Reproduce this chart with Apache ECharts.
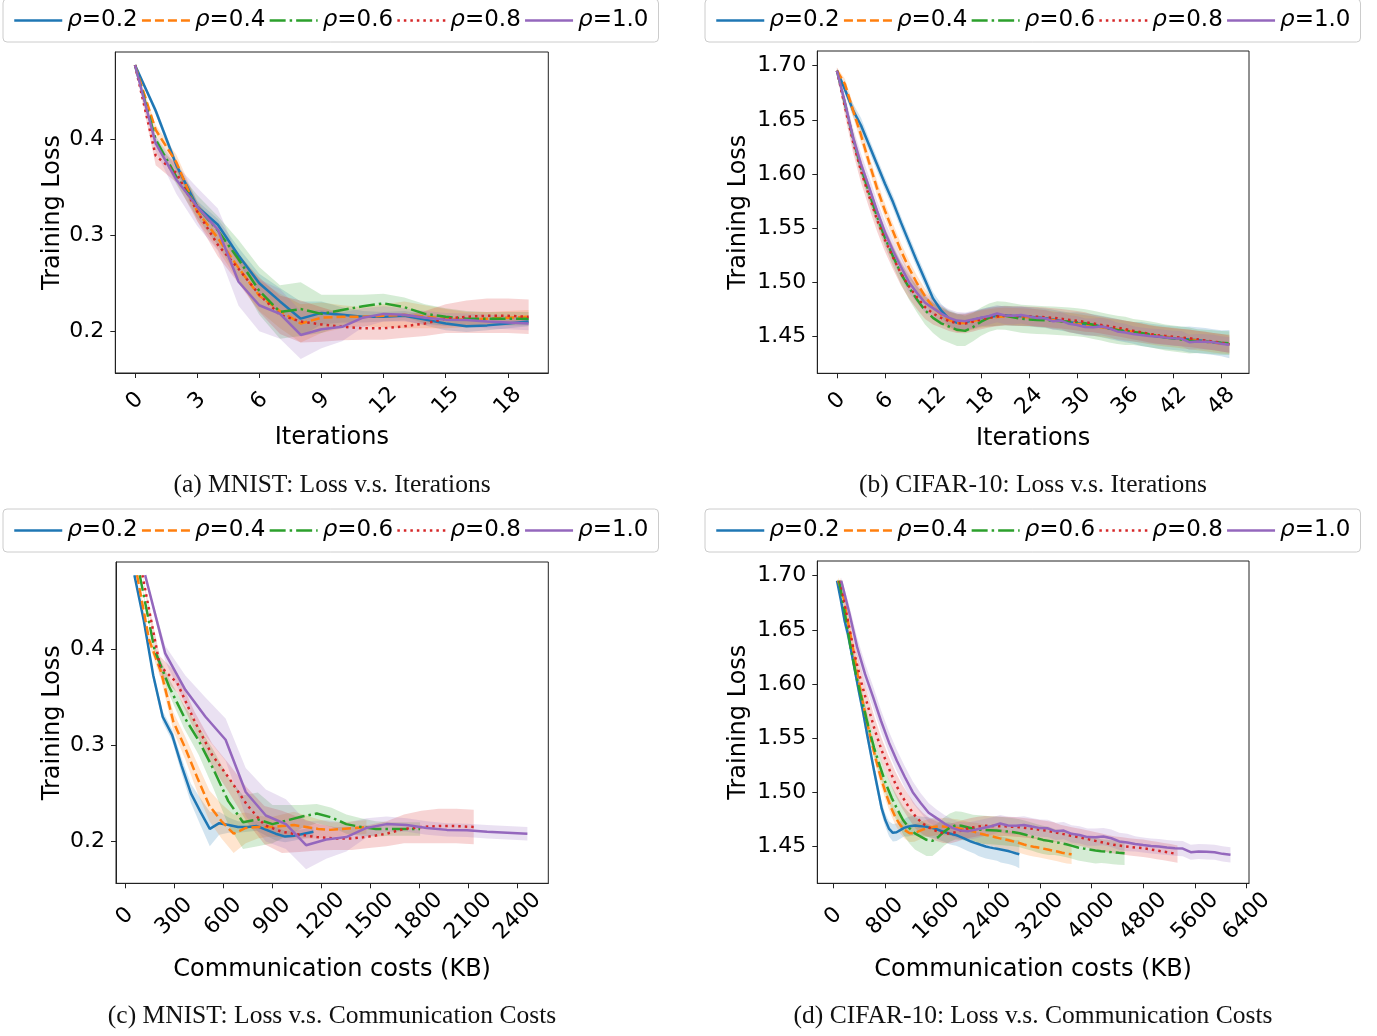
<!DOCTYPE html>
<html><head><meta charset="utf-8">
<script src="https://cdn.jsdelivr.net/npm/echarts@6/dist/echarts.min.js"></script>
<style>html,body{margin:0;padding:0;background:#fff}#c{width:1377px;height:1036px}</style>
</head><body><div id="c"></div><script>
// ---------------- DATA ----------------
const seriesNames = ['ρ=0.2', 'ρ=0.4', 'ρ=0.6', 'ρ=0.8', 'ρ=1.0'];
const seriesColors = ['#1f77b4', '#ff7f0e', '#2ca02c', '#d62728', '#9467bd'];
// communication cost per training round (KB) for each rho
const costPerRound = [57.6, 73.8, 90.2, 106.6, 123.0];

// MNIST training loss per iteration (0..19)
const mnistLoss_r02 = [0.4776, 0.430, 0.373, 0.330, 0.311, 0.279, 0.250, 0.231, 0.213, 0.219, 0.217, 0.215, 0.215, 0.216, 0.212, 0.208, 0.205, 0.206, 0.208, 0.210];
const mnistLoss_r04 = [0.4776, 0.410, 0.376, 0.325, 0.297, 0.266, 0.237, 0.221, 0.208, 0.214, 0.215, 0.215, 0.216, 0.217, 0.215, 0.213, 0.212, 0.213, 0.214, 0.215];
const mnistLoss_r06 = [0.4776, 0.400, 0.361, 0.330, 0.305, 0.275, 0.242, 0.220, 0.223, 0.218, 0.222, 0.226, 0.229, 0.225, 0.218, 0.215, 0.213, 0.213, 0.213, 0.213];
const mnistLoss_r08 = [0.4776, 0.383, 0.365, 0.325, 0.290, 0.265, 0.238, 0.217, 0.210, 0.207, 0.2045, 0.203, 0.203, 0.205, 0.208, 0.213, 0.215, 0.216, 0.216, 0.215];
const mnistLoss_r10 = [0.4776, 0.396, 0.358, 0.330, 0.306, 0.2515, 0.227, 0.218, 0.196, 0.202, 0.2045, 0.214, 0.218, 0.217, 0.214, 0.212, 0.2115, 0.210, 0.209, 0.208];
// MNIST shaded band half-widths
const mnistBand_r02 = [0.001, 0.004, 0.005, 0.006, 0.006, 0.008, 0.010, 0.014, 0.018, 0.012, 0.008, 0.006, 0.005, 0.005, 0.006, 0.007, 0.006, 0.005, 0.005, 0.005];
const mnistBand_r04 = [0.001, 0.005, 0.008, 0.010, 0.012, 0.015, 0.016, 0.018, 0.020, 0.016, 0.012, 0.010, 0.012, 0.014, 0.012, 0.010, 0.008, 0.007, 0.007, 0.007];
const mnistBand_r06 = [0.001, 0.004, 0.008, 0.012, 0.015, 0.020, 0.025, 0.028, 0.028, 0.020, 0.016, 0.012, 0.010, 0.010, 0.010, 0.009, 0.008, 0.007, 0.007, 0.007];
const mnistBand_r08 = [0.001, 0.010, 0.010, 0.010, 0.012, 0.015, 0.018, 0.020, 0.022, 0.018, 0.014, 0.012, 0.012, 0.012, 0.013, 0.015, 0.017, 0.018, 0.018, 0.018];
const mnistBand_r10 = [0.001, 0.008, 0.015, 0.020, 0.022, 0.025, 0.027, 0.026, 0.025, 0.020, 0.015, 0.010, 0.008, 0.007, 0.007, 0.007, 0.007, 0.007, 0.007, 0.007];

// CIFAR-10 training loss per iteration (0..49)
const cifarLoss_r02 = [1.6954, 1.678, 1.659, 1.645, 1.627, 1.609, 1.591, 1.574, 1.555, 1.537, 1.519, 1.502, 1.485, 1.474, 1.466, 1.4625, 1.4630, 1.4650, 1.4670, 1.4680, 1.4688, 1.4692, 1.4688, 1.4684, 1.4680, 1.4674, 1.4666, 1.4655, 1.4641, 1.4630, 1.4621, 1.4612, 1.4604, 1.4590, 1.4575, 1.4559, 1.4544, 1.4532, 1.4521, 1.4509, 1.4498, 1.4490, 1.4483, 1.4477, 1.4471, 1.4464, 1.4456, 1.4446, 1.4436, 1.4427];
const cifarLoss_r04 = [1.6954, 1.683, 1.659, 1.636, 1.611, 1.587, 1.566, 1.547, 1.529, 1.513, 1.499, 1.487, 1.477, 1.470, 1.4650, 1.4620, 1.4622, 1.4640, 1.4658, 1.4670, 1.4678, 1.4684, 1.4682, 1.4679, 1.4675, 1.4669, 1.4661, 1.4650, 1.4640, 1.4628, 1.4616, 1.4605, 1.4595, 1.4584, 1.4573, 1.4563, 1.4554, 1.4542, 1.4530, 1.4516, 1.4505, 1.4496, 1.4488, 1.4479, 1.4470, 1.4461, 1.4452, 1.4441, 1.4432, 1.4426];
const cifarLoss_r06 = [1.6954, 1.665, 1.633, 1.606, 1.583, 1.561, 1.541, 1.524, 1.508, 1.495, 1.484, 1.474, 1.467, 1.462, 1.4590, 1.4560, 1.4550, 1.4585, 1.4635, 1.4672, 1.4693, 1.4690, 1.4676, 1.4662, 1.4656, 1.4651, 1.4648, 1.4645, 1.4640, 1.4636, 1.4630, 1.4620, 1.4606, 1.4590, 1.4573, 1.4559, 1.4550, 1.4540, 1.4530, 1.4519, 1.4504, 1.4489, 1.4479, 1.4470, 1.4461, 1.4455, 1.4450, 1.4445, 1.4440, 1.4436];
const cifarLoss_r08 = [1.6954, 1.662, 1.630, 1.603, 1.580, 1.558, 1.539, 1.523, 1.508, 1.496, 1.486, 1.477, 1.471, 1.467, 1.4640, 1.4620, 1.4618, 1.4635, 1.4655, 1.4672, 1.4682, 1.4690, 1.4688, 1.4686, 1.4684, 1.4680, 1.4676, 1.4670, 1.4662, 1.4652, 1.4644, 1.4631, 1.4618, 1.4605, 1.4592, 1.4580, 1.4566, 1.4551, 1.4538, 1.4523, 1.4511, 1.4503, 1.4495, 1.4488, 1.4482, 1.4472, 1.4461, 1.4450, 1.4440, 1.4427];
const cifarLoss_r10 = [1.6954, 1.666, 1.634, 1.609, 1.588, 1.566, 1.546, 1.529, 1.514, 1.500, 1.490, 1.481, 1.476, 1.471, 1.467, 1.4645, 1.4640, 1.4655, 1.4672, 1.4688, 1.4710, 1.4692, 1.4690, 1.4697, 1.4682, 1.4668, 1.4666, 1.4638, 1.4645, 1.4615, 1.4605, 1.4585, 1.4584, 1.4590, 1.4574, 1.4545, 1.4535, 1.4522, 1.4512, 1.4503, 1.4497, 1.4489, 1.4482, 1.4479, 1.4445, 1.4452, 1.4449, 1.4445, 1.4430, 1.4421];
// CIFAR-10 shaded band half-widths
const cifarBand_r02 = [0.002, 0.004, 0.006, 0.007, 0.006, 0.006, 0.006, 0.006, 0.006, 0.006, 0.006, 0.006, 0.006, 0.006, 0.007, 0.008, 0.008, 0.008, 0.008, 0.009, 0.009, 0.009, 0.009, 0.009, 0.009, 0.009, 0.009, 0.009, 0.009, 0.009, 0.010, 0.010, 0.010, 0.010, 0.010, 0.010, 0.010, 0.010, 0.011, 0.011, 0.011, 0.011, 0.011, 0.011, 0.012, 0.012, 0.012, 0.012, 0.012, 0.013];
const cifarBand_r04 = [0.003, 0.005, 0.006, 0.007, 0.007, 0.007, 0.007, 0.007, 0.007, 0.007, 0.007, 0.007, 0.007, 0.008, 0.008, 0.008, 0.008, 0.008, 0.008, 0.008, 0.008, 0.008, 0.008, 0.008, 0.008, 0.008, 0.008, 0.008, 0.008, 0.009, 0.009, 0.009, 0.009, 0.009, 0.009, 0.009, 0.009, 0.009, 0.009, 0.009, 0.009, 0.009, 0.009, 0.009, 0.009, 0.009, 0.009, 0.009, 0.009, 0.009];
const cifarBand_r06 = [0.002, 0.005, 0.006, 0.007, 0.008, 0.008, 0.008, 0.009, 0.010, 0.011, 0.012, 0.013, 0.014, 0.015, 0.015, 0.015, 0.014, 0.013, 0.013, 0.013, 0.013, 0.013, 0.013, 0.013, 0.013, 0.013, 0.013, 0.013, 0.013, 0.013, 0.013, 0.013, 0.013, 0.013, 0.013, 0.013, 0.013, 0.012, 0.012, 0.012, 0.012, 0.012, 0.012, 0.012, 0.012, 0.011, 0.011, 0.011, 0.011, 0.011];
const cifarBand_r08 = [0.003, 0.008, 0.010, 0.011, 0.011, 0.011, 0.011, 0.011, 0.011, 0.011, 0.011, 0.011, 0.010, 0.009, 0.009, 0.009, 0.009, 0.009, 0.009, 0.009, 0.009, 0.009, 0.009, 0.009, 0.009, 0.009, 0.009, 0.009, 0.009, 0.009, 0.009, 0.009, 0.008, 0.008, 0.008, 0.008, 0.008, 0.008, 0.008, 0.008, 0.008, 0.008, 0.008, 0.008, 0.008, 0.008, 0.008, 0.008, 0.008, 0.008];
const cifarBand_r10 = [0.003, 0.007, 0.009, 0.010, 0.010, 0.010, 0.010, 0.010, 0.010, 0.010, 0.009, 0.009, 0.008, 0.008, 0.008, 0.008, 0.008, 0.008, 0.008, 0.008, 0.008, 0.008, 0.008, 0.008, 0.008, 0.008, 0.008, 0.008, 0.008, 0.008, 0.008, 0.008, 0.008, 0.008, 0.008, 0.008, 0.008, 0.007, 0.007, 0.007, 0.007, 0.007, 0.007, 0.007, 0.007, 0.007, 0.007, 0.007, 0.007, 0.007];

// tick labels
const ticksMnistIter = [0, 3, 6, 9, 12, 15, 18];
const ticksCifarIter = [0, 6, 12, 18, 24, 30, 36, 42, 48];
const ticksMnistCost = [0, 300, 600, 900, 1200, 1500, 1800, 2100, 2400];
const ticksCifarCost = [0, 800, 1600, 2400, 3200, 4000, 4800, 5600, 6400];
const ticksMnistLoss = [0.2, 0.3, 0.4];
const ticksCifarLoss = [1.45, 1.50, 1.55, 1.60, 1.65, 1.70];
const captions = ['(a) MNIST: Loss v.s. Iterations', '(b) CIFAR-10: Loss v.s. Iterations',
  '(c) MNIST: Loss v.s. Communication Costs', '(d) CIFAR-10: Loss v.s. Communication Costs'];

// ---------------- CHART ----------------
const mnistLoss = [mnistLoss_r02, mnistLoss_r04, mnistLoss_r06, mnistLoss_r08, mnistLoss_r10];
const mnistBand = [mnistBand_r02, mnistBand_r04, mnistBand_r06, mnistBand_r08, mnistBand_r10];
const cifarLoss = [cifarLoss_r02, cifarLoss_r04, cifarLoss_r06, cifarLoss_r08, cifarLoss_r10];
const cifarBand = [cifarBand_r02, cifarBand_r04, cifarBand_r06, cifarBand_r08, cifarBand_r10];
const lineTypes = ['solid', [9, 4], [16, 4, 2.5, 4], [2.5, 4], 'solid'];

const FONT = 'DejaVu Sans';
const panels = [
  {grid: {left: 115.3, top: 52, width: 433, height: 321}, loss: mnistLoss, band: mnistBand, byCost: false,
   xmin: -0.95, xmax: 19.95, xticks: ticksMnistIter, ymin: 0.1563, ymax: 0.4913, yticks: ticksMnistLoss, ydec: 1,
   xname: 'Iterations', xgap: 53, ygap: 51, legendLeft: 3, legendTop: -1, capX: 332, capY: 472},
  {grid: {left: 817.3, top: 51, width: 431.7, height: 322.3}, loss: cifarLoss, band: cifarBand, byCost: false,
   xmin: -2.45, xmax: 51.45, xticks: ticksCifarIter, ymin: 1.4158, ymax: 1.7136, yticks: ticksCifarLoss, ydec: 2,
   xname: 'Iterations', xgap: 53, ygap: 67, legendLeft: 705, legendTop: -1, capX: 1033, capY: 472},
  {grid: {left: 116, top: 562, width: 432.3, height: 321.3}, loss: mnistLoss, band: mnistBand, byCost: true,
   xmin: -55, xmax: 2588, xticks: ticksMnistCost, ymin: 0.1563, ymax: 0.4913, yticks: ticksMnistLoss, ydec: 1,
   xname: 'Communication costs (KB)', xgap: 74, ygap: 51, legendLeft: 3, legendTop: 509, capX: 332, capY: 1003},
  {grid: {left: 817.3, top: 561, width: 431.7, height: 322.3}, loss: cifarLoss, band: cifarBand, byCost: true,
   xmin: -248, xmax: 6437, xticks: ticksCifarCost, ymin: 1.4158, ymax: 1.7136, yticks: ticksCifarLoss, ydec: 2,
   xname: 'Communication costs (KB)', xgap: 74, ygap: 67, legendLeft: 705, legendTop: 509, capX: 1033, capY: 1003}
];

function hexA(hex, a) {
  const r = parseInt(hex.slice(1, 3), 16), g = parseInt(hex.slice(3, 5), 16), b = parseInt(hex.slice(5, 7), 16);
  return 'rgba(' + r + ',' + g + ',' + b + ',' + a + ')';
}

const grids = [], xAxes = [], yAxes = [], series = [], legends = [], titles = [];
panels.forEach((p, pi) => {
  grids.push(Object.assign({show: true, borderColor: '#222', borderWidth: 1, backgroundColor: 'transparent', outerBoundsMode: 'none', containLabel: false}, p.grid));
  xAxes.push({
    type: 'value', gridIndex: pi, min: p.xmin, max: p.xmax,
    axisLine: {show: true, onZero: false, lineStyle: {color: '#222', width: 1}},
    axisTick: {show: true, length: 5, customValues: p.xticks, lineStyle: {color: '#222', width: 1}},
    axisLabel: {customValues: p.xticks, rotate: 45, align: 'center', verticalAlign: 'middle', margin: p.byCost ? 33 : 28,
      fontSize: 22, fontFamily: FONT, color: '#000', formatter: v => String(v)},
    splitLine: {show: false},
    name: p.xname, nameLocation: 'middle', nameGap: p.xgap,
    nameTextStyle: {fontSize: 24, fontFamily: FONT, color: '#000'}
  });
  yAxes.push({
    type: 'value', gridIndex: pi, min: p.ymin, max: p.ymax,
    axisLine: {show: true, onZero: false, lineStyle: {color: '#222', width: 1}},
    axisTick: {show: true, length: 5, customValues: p.yticks, lineStyle: {color: '#222', width: 1}},
    axisLabel: {customValues: p.yticks, margin: 11, fontSize: 22, fontFamily: FONT, color: '#000',
      formatter: v => Number(v).toFixed(p.ydec)},
    splitLine: {show: false},
    name: 'Training Loss', nameLocation: 'middle', nameGap: p.ygap, nameRotate: 90,
    nameTextStyle: {fontSize: 24, fontFamily: FONT, color: '#000'}
  });
  for (let k = 0; k < 5; k++) {
    const loss = p.loss[k], band = p.band[k];
    const xs = loss.map((_, i) => p.byCost ? (i + 1) * costPerRound[k] : i);
    const pts = loss.map((v, i) => [xs[i], v]);
    const bandPts = loss.map((v, i) => [xs[i], v - band[i], v + band[i]]);
    const color = seriesColors[k];
    series.push({
      type: 'custom', name: 'band' + pi + '_' + k, xAxisIndex: pi, yAxisIndex: pi, z: 1, silent: true,
      clip: true, encode: {x: 0, y: [1, 2]}, data: bandPts,
      renderItem: function (params, api) {
        if (params.dataIndex !== 0) return null;
        const up = [], low = [];
        bandPts.forEach(b => { up.push(api.coord([b[0], b[2]])); low.push(api.coord([b[0], b[1]])); });
        const poly = up.concat(low.reverse());
        return {type: 'polygon', shape: {points: poly}, style: {fill: hexA(color, 0.2), stroke: null}};
      }
    });
    series.push({
      type: 'line', name: seriesNames[k], xAxisIndex: pi, yAxisIndex: pi, z: 3 + k,
      data: pts, showSymbol: false, symbol: 'none', smooth: false,
      lineStyle: {color: color, width: 2.5, type: lineTypes[k], cap: 'butt'},
      itemStyle: {color: color}, emphasis: {disabled: true}
    });
  }
  legends.push({
    left: p.legendLeft, top: p.legendTop, orient: 'horizontal', data: seriesNames,
    itemWidth: 48, itemHeight: 14, itemGap: 3, padding: [10, 10, 10, 10],
    borderColor: '#cccccc', borderWidth: 1, borderRadius: 4, backgroundColor: '#fff',
    selectedMode: false,
    itemStyle: {opacity: 0, borderWidth: 0},
    lineStyle: {width: 2.5},
    formatter: n => '{i|ρ}' + n.slice(1),
    textStyle: {fontSize: 23, fontFamily: FONT, color: '#000',
      rich: {i: {fontStyle: 'italic', fontSize: 23, fontFamily: FONT, color: '#000'}}}
  });
  titles.push({
    text: captions[pi], left: p.capX, top: p.capY, textAlign: 'center', padding: 0,
    textStyle: {fontFamily: 'Liberation Serif', fontSize: 25.5, fontWeight: 'normal', color: '#111'}
  });
});

const chart = echarts.init(document.getElementById('c'), null, {renderer: 'canvas'});
chart.setOption({
  animation: false,
  backgroundColor: '#fff',
  title: titles,
  legend: legends,
  grid: grids,
  xAxis: xAxes,
  yAxis: yAxes,
  series: series
});
</script></body></html>
